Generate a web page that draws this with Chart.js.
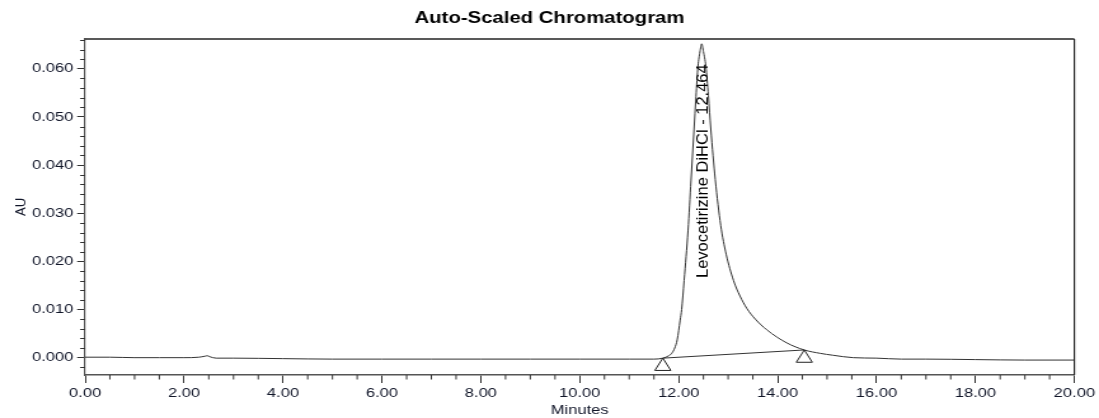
<!DOCTYPE html>
<html>
<head>
<meta charset="utf-8">
<script src="https://cdn.jsdelivr.net/npm/chart.js@4"></script>
<style>
  html, body { margin: 0; padding: 0; background: #fff; }
  #c { display: block; }
</style>
</head>
<body>
<!-- chart drawn at 865px and shown at 1099px, the reference is stretched sideways -->
<canvas id="c" width="865" height="418" style="width:1099px;height:418px"></canvas>
<script>
const STRETCH = 1099 / 865;

// trace: minutes / AU
const times = [0, 0.5, 1.0, 1.5, 2.0, 2.3, 2.42, 2.47, 2.52, 2.65, 3.0, 4.0, 5.0, 6.0, 7.0, 8.0, 9.0, 10.0, 11.0, 11.5,
  11.68, 11.8, 11.86, 11.92, 11.97, 12.03, 12.06, 12.11, 12.19, 12.25, 12.31, 12.35, 12.39, 12.43, 12.465, 12.50, 12.55,
  12.60, 12.65, 12.74, 12.85, 12.96, 13.11, 13.24, 13.38, 13.55, 13.78, 14.18, 14.54, 14.86, 15.12, 15.53, 16.0, 16.5,
  17.0, 18.0, 19.0, 20.0];
const absorbance = [0.0001, 0.0001, 0.0000, 0.0000, 0.0000, 0.0001, 0.0003, 0.0004, 0.0002, -0.0001, -0.0001, -0.0002,
  -0.0003, -0.0003, -0.0003, -0.0003, -0.0003, -0.0003, -0.0003, -0.0003,
  -0.0001, 0.0004, 0.0009, 0.0020, 0.0037, 0.0078, 0.0100, 0.0160, 0.0265, 0.0369, 0.0473, 0.0542, 0.0605, 0.0635,
  0.0652, 0.0636, 0.0605, 0.0545, 0.0475, 0.0370, 0.0275, 0.0215, 0.0160, 0.0128, 0.0102, 0.0080, 0.0058, 0.0031,
  0.0016, 0.0009, 0.0005, 0.0000, -0.0001, -0.0003, -0.0003, -0.0004, -0.0005, -0.0005];

// integration baseline (start / end markers)
const baselineTimes = [11.68, 14.54];
const baselineValues = [-0.0001, 0.0016];

const peakLabel = 'Levocetirizine DiHCl - 12.464';
const peakTime = 12.464;

const xTicksMajor = 2, xTicksMinor = 0.5;
const yTicksMajor = 0.01, yTicksMinor = 0.002;

Chart.defaults.font.family = "'Liberation Sans', Arial, sans-serif";
const inkColor = '#101528';

const extras = {
  id: 'extras',
  afterDraw(chart) {
    const ctx = chart.ctx;
    const xs = chart.scales.x, ys = chart.scales.y;
    const a = chart.chartArea;
    ctx.save();

    // top and right frame
    ctx.strokeStyle = '#222';
    ctx.lineWidth = 1.5;
    ctx.beginPath();
    ctx.moveTo(a.left, a.top);
    ctx.lineTo(a.right, a.top);
    ctx.stroke();
    ctx.lineWidth = 1.2;
    ctx.beginPath();
    ctx.moveTo(a.right, a.top);
    ctx.lineTo(a.right, a.bottom);
    ctx.stroke();

    // minor ticks
    ctx.strokeStyle = '#333';
    ctx.lineWidth = 1;
    ctx.beginPath();
    for (let i = 1; i * xTicksMinor < xs.max; i++) {
      const v = i * xTicksMinor;
      if (Math.abs(v / xTicksMajor - Math.round(v / xTicksMajor)) < 1e-6) continue;
      const px = xs.getPixelForValue(v);
      ctx.moveTo(px, a.bottom);
      ctx.lineTo(px, a.bottom + 4.5);
    }
    for (let i = Math.ceil(ys.min / yTicksMinor); i * yTicksMinor <= ys.max; i++) {
      const v = i * yTicksMinor;
      if (Math.abs(v / yTicksMajor - Math.round(v / yTicksMajor)) < 1e-6) continue;
      const py = Math.round(ys.getPixelForValue(v)) + 0.5;
      ctx.moveTo(a.left - 5 / STRETCH, py);
      ctx.lineTo(a.left, py);
    }
    ctx.stroke();

    // baseline markers
    ctx.strokeStyle = '#222';
    ctx.lineWidth = 1;
    const halfW = 8 / STRETCH, h = 12.3;
    baselineTimes.forEach((t, i) => {
      const px = xs.getPixelForValue(t);
      const py = ys.getPixelForValue(baselineValues[i]);
      ctx.beginPath();
      ctx.moveTo(px, py);
      ctx.lineTo(px + halfW, py + h);
      ctx.lineTo(px - halfW, py + h);
      ctx.closePath();
      ctx.stroke();
    });

    // rotated texts, kept unstretched
    ctx.fillStyle = '#000';
    ctx.save();
    ctx.translate(xs.getPixelForValue(peakTime) + 1.5, 278);
    ctx.scale(1 / STRETCH, 1);
    ctx.rotate(-Math.PI / 2);
    ctx.font = "16.5px 'Liberation Sans', Arial, sans-serif";
    ctx.textAlign = 'left';
    ctx.textBaseline = 'middle';
    ctx.fillText(peakLabel, 0, 0);
    ctx.restore();

    ctx.save();
    ctx.translate(21.5 / STRETCH, (a.top + a.bottom) / 2);
    ctx.scale(1 / STRETCH, 1);
    ctx.rotate(-Math.PI / 2);
    ctx.font = "13px 'Liberation Sans', Arial, sans-serif";
    ctx.fillStyle = inkColor;
    ctx.textAlign = 'center';
    ctx.textBaseline = 'middle';
    ctx.fillText('AU', 0, 0);
    ctx.restore();

    ctx.restore();
  }
};

new Chart(document.getElementById('c'), {
  type: 'scatter',
  data: {
    datasets: [
      {
        data: times.map((t, i) => ({x: t, y: absorbance[i]})),
        showLine: true,
        borderColor: '#333',
        borderWidth: 1,
        pointRadius: 0,
        cubicInterpolationMode: 'monotone'
      },
      {
        data: baselineTimes.map((t, i) => ({x: t, y: baselineValues[i]})),
        showLine: true,
        borderColor: '#333',
        borderWidth: 1,
        pointRadius: 0
      }
    ]
  },
  options: {
    responsive: false,
    animation: false,
    layout: { padding: 0 },
    plugins: {
      legend: { display: false },
      tooltip: { enabled: false },
      title: {
        display: true,
        text: 'Auto-Scaled Chromatogram',
        color: '#000',
        font: { size: 16, weight: 'bold' },
        padding: { top: 8.9, bottom: 10.9 }
      }
    },
    scales: {
      x: {
        type: 'linear',
        min: 0,
        max: 20,
        afterFit: s => { s.height = 43; },
        ticks: {
          stepSize: xTicksMajor,
          includeBounds: false,
          maxRotation: 0,
          autoSkip: false,
          padding: 3,
          color: inkColor,
          font: { size: 13 },
          callback: v => v.toFixed(2)
        },
        grid: { drawOnChartArea: false, drawTicks: true, tickLength: 8, tickColor: '#333', tickWidth: 1 },
        border: { display: true, color: '#555', width: 1.5 },
        title: { display: true, text: 'Minutes', color: inkColor, font: { size: 13 }, padding: 0 }
      },
      y: {
        min: -0.0036,
        max: 0.0662,
        afterFit: s => { s.width = 67; },
        ticks: {
          stepSize: yTicksMajor,
          includeBounds: false,
          padding: 3,
          color: inkColor,
          font: { size: 13 },
          callback: v => v.toFixed(3)
        },
        grid: { drawOnChartArea: false, drawTicks: true, tickLength: 8 / STRETCH, tickColor: '#333', tickWidth: 1 },
        border: { display: true, color: '#555', width: 1.2 }
      },
      // empty strip on the right so the title stays centred on the page
      yr: {
        type: 'linear',
        position: 'right',
        afterFit: s => { s.width = 19.4; },
        ticks: { display: false },
        grid: { display: false },
        border: { display: false }
      }
    }
  },
  plugins: [extras]
});
</script>
</body>
</html>
